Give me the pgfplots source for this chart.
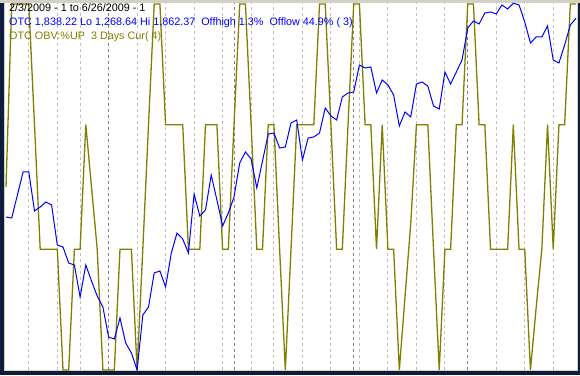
\documentclass[border=0pt]{standalone}
\usepackage{fontspec}
\setmainfont{Liberation Sans}
\usepackage{pgfplots}
\usepackage{pgfplotstable}
\pgfplotsset{compat=1.18}
\definecolor{otcblue}{RGB}{0,0,255}
\definecolor{obvolive}{RGB}{128,128,0}
\definecolor{wkgray}{RGB}{192,192,192}
\definecolor{mogray}{RGB}{128,128,128}
\definecolor{framenavy}{RGB}{12,28,58}
\definecolor{framegray}{RGB}{212,208,200}

\pgfplotstableread{
i otc obv
0 1516.3 50
1 1514.7 100
2 1552.0 100
3 1589.2 100
4 1589.2 100
5 1526.1 67
6 1532.5 33
7 1540.6 33
8 1535.8 33
9 1471.0 33
10 1467.8 0
11 1441.9 0
12 1438.6 33
13 1386.8 33
14 1438.6 67
15 1412.7 50
16 1388.4 33
17 1370.6 0
18 1322.1 0
19 1318.8 0
20 1352.8 33
21 1312.3 33
22 1296.2 33
23 1268.6 0
24 1357.7 33
25 1370.6 67
26 1425.7 100
27 1428.9 100
28 1403.0 67
29 1458.1 67
30 1490.4 67
31 1480.7 67
32 1458.1 33
33 1553.6 33
34 1518.0 33
35 1527.7 67
36 1584.3 67
37 1543.9 67
38 1501.8 33
39 1522.8 33
40 1548.7 67
41 1603.8 100
42 1621.6 100
43 1610.3 67
44 1563.3 33
45 1607.0 33
46 1650.7 67
47 1652.3 67
48 1628.1 33
49 1629.7 0
50 1668.5 33
51 1673.4 67
52 1608.6 67
53 1644.2 67
54 1645.9 67
55 1652.3 100
56 1692.8 100
57 1679.9 67
58 1673.4 33
59 1710.6 33
60 1717.1 67
61 1718.7 100
62 1762.4 100
63 1757.6 67
64 1759.2 67
65 1717.1 33
66 1738.2 67
67 1730.1 33
68 1713.9 33
69 1663.7 0
70 1686.3 20
71 1678.3 40
72 1731.7 67
73 1734.9 67
74 1728.4 67
75 1696.1 33
76 1691.2 0
77 1751.1 33
78 1731.7 33
79 1751.1 67
80 1770.5 67
81 1822.3 100
82 1833.7 100
83 1828.8 67
84 1846.6 67
85 1848.2 33
86 1845.0 33
87 1859.6 33
88 1853.1 33
89 1862.4 67
90 1859.6 33
91 1832.1 33
92 1798.0 0
93 1807.8 17
94 1807.8 33
95 1825.6 67
96 1770.5 33
97 1765.7 67
98 1794.8 67
99 1827.2 100
100 1838.2 100
}\datatable

\begin{document}
\begin{tikzpicture}[x=1pt,y=1pt]
\fill[framenavy] (0,0) rectangle (580,375);
\fill[framegray] (0,372) rectangle (580,375);
\fill[white] (5,5) rectangle (577,372);
\draw[framegray, line width=0.8pt] (4.6,4.6) rectangle (577.4,372.4);

% OBV %UP axis (underneath, with grid)
\begin{axis}[at={(5pt,5pt)}, anchor=south west, scale only axis,
  width=572pt, height=367pt,
  xmin=-0.175, xmax=100.17, ymin=0, ymax=100.27,
  axis lines=none, clip=true]
\pgfplotsinvokeforeach{4,9,13,23,28,33,38,43,47,52,57,62,67,72,77,86,91,96}{
  \draw[wkgray, line width=1pt, dash pattern=on 3pt off 3pt] (axis cs:#1,0) -- (axis cs:#1,100.27);
}
\pgfplotsinvokeforeach{18,40,61,81}{
  \draw[mogray, line width=1pt, dash pattern=on 3pt off 3pt] (axis cs:#1,0) -- (axis cs:#1,100.27);
}
\addplot[obvolive, line width=1.3pt, line join=miter] table[x=i, y=obv] {\datatable};
\end{axis}

% OTC price axis
\begin{axis}[at={(5pt,5pt)}, anchor=south west, scale only axis,
  width=572pt, height=367pt,
  xmin=-0.175, xmax=100.17, ymin=1268.64, ymax=1862.8,
  axis lines=none, clip=true]
\addplot[otcblue, line width=1pt] table[x=i, y=otc] {\datatable};
\end{axis}

\fontsize{10.8}{13}\selectfont
\node[anchor=base west, inner sep=0pt, text=black] at (9,363) {2/3/2009 - 1 to 6/26/2009 - 1};
\node[anchor=base west, inner sep=0pt, text=otcblue] at (9,349) {OTC 1,838.22 Lo 1,268.64 Hi 1,862.37\ \ Offhigh 1.3\%\ \ Offlow 44.9\% ( 3)};
\node[anchor=base west, inner sep=0pt, text=obvolive] at (9,335) {OTC OBV:\%UP\ \ 3 Days Cur( 4)};
\end{tikzpicture}
\end{document}
